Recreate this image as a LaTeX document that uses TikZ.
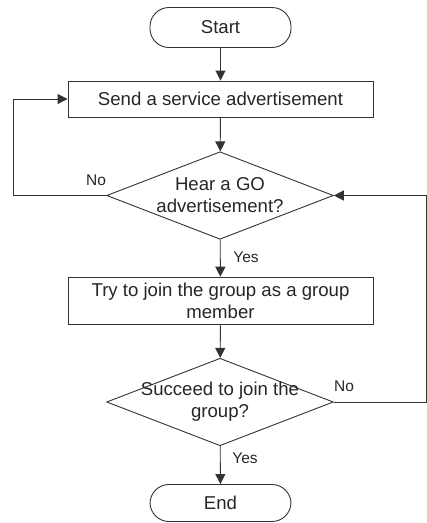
\documentclass[tikz,border=0pt]{standalone}
\usepackage{fontspec}
\setmainfont{Liberation Sans}
\usetikzlibrary{shapes.geometric,arrows.meta}
\begin{document}
\begin{tikzpicture}[x=1pt,y=-1pt,line width=.9pt,
  every node/.style={font=\fontsize{18.6}{22}\selectfont, text=black!85, align=center},
  term/.style={draw=black!80, rounded corners=19pt, minimum width=141pt},
  stepbox/.style={draw=black!80, minimum width=305pt},
  decision/.style={draw=black!80, diamond, inner sep=0pt, minimum width=226.7pt, minimum height=87.5pt},
  lbl/.style={font=\fontsize{15.5}{18}\selectfont},
  arr/.style={draw=black!80, -{Triangle[length=10pt,width=10pt]}}]
\useasboundingbox (0,0) rectangle (427,523);
\node [term, minimum height=40pt] (start) at (220.5,27.5) {Start};
\node [stepbox, minimum height=36pt] (send) at (220.5,99) {Send a service advertisement};
\node [decision] (hear) at (220,195.5) {};
\node (heartext) at (220,195.5) {Hear a GO\\advertisement?};
\node [stepbox, minimum height=47.7pt] (join) at (220.5,301) {Try to join the group as a group\\member};
\node [decision] (succeed) at (220,402) {};
\node (succeedtext) at (220,402) {Succeed to join the\\group?};
\node [term, minimum height=37pt] (end) at (220.5,503) {End};

\draw [arr] (start) -- (send);
\draw [arr] (send) -- (hear);
\draw [arr] (hear.west) -- ++(-92.7,0) |- (send.west);
\node [lbl] (nohear) at (96,180) {No};
\draw [arr] (hear) -- (join);
\node [lbl] (yeshear) at (246,257) {Yes};
\draw [arr] (join) -- (succeed);
\draw [arr] (succeed.east) -- ++(92.7,0) |- (hear.east);
\node [lbl] (nosucceed) at (344,386) {No};
\draw [arr] (succeed) -- (end);
\node [lbl] (yessucceed) at (245,458) {Yes};
\end{tikzpicture}
\end{document}
